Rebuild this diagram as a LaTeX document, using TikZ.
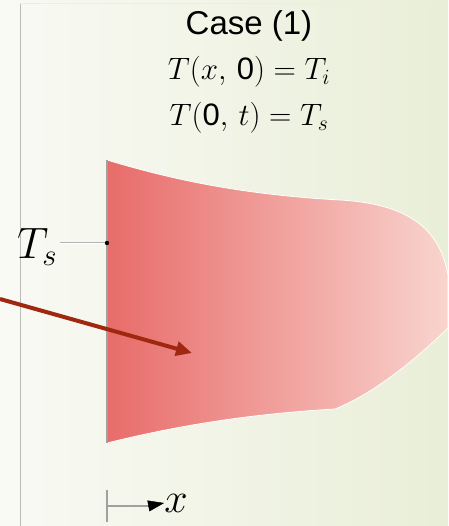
\documentclass[tikz,border=0pt]{standalone}
\usepackage{fix-cm}
\usepackage{amsmath, amssymb}
\usepackage{fontspec}
\setmainfont{Liberation Sans}
\usetikzlibrary{arrows.meta}
\definecolor{bgleft}{RGB}{249, 250, 244}
\definecolor{bgright}{RGB}{233, 238, 216}
\definecolor{slabhot}{RGB}{232, 108, 106}
\definecolor{slabcold}{RGB}{249, 212, 206}
\definecolor{arrowred}{RGB}{160, 40, 16}
\definecolor{wallgray}{RGB}{160, 160, 160}

\begin{document}
\begin{tikzpicture}[x=1pt, y=-1pt,
    eqtext/.style={inner sep=0pt, font=\fontsize{31}{34}\selectfont}]
        \useasboundingbox (0,0) rectangle (448,526);
        % Background panel
        \shade[left color=bgleft, right color=bgright] (0,0) rectangle (448,526);
        \draw[wallgray!70, line width=0.8pt] (20,3) -- (20,526);
        \draw[white!85!gray, line width=0.6pt] (20,3) -- (448,3);
        % Heated slab with temperature profile
        \shade[left color=slabhot, right color=slabcold, draw=white, line width=0.8pt]
          (107,160)
          .. controls (180,182) and (250,195) ..
          (340,200)         % flat part of top
          .. controls (410,204) and (440,230) ..
          (448,275)
          -- (448,328)
          .. controls (410,365) and (370,395) ..
          (335,409)         % kink in bottom
          .. controls (250,414) and (180,425) ..
          (107,443) -- cycle;
        \coordinate (walltop) at (107,160);
        \coordinate (wallbot) at (107,443);
        \draw[wallgray, line width=1.6pt] (walltop) -- (wallbot);
        % Labels
        \node[inner sep=0pt, font=\fontsize{33}{36}\selectfont] (title) at (249,26) {Case (1)};
        \node[eqtext] (initcond) at (249,72) {$T(x,\,\text{0}) = T_i$};
        \node[eqtext] (bndcond) at (249,118) {$T(\text{0},\,t) = T_s$};
        % Surface temperature marker
        \node[inner sep=0pt, font=\fontsize{44}{46}\selectfont] (tslabel) at (37,247) {$T_s$};
        \coordinate (tsdot) at (107,243);
        \draw[wallgray!80, double=white, double distance=0.9pt, line width=0.5pt]
          (tslabel.east |- tsdot) ++(3,0) -- (tsdot);
        \fill[black] (tsdot) circle (2.2);
        % Pointer into slab
        \coordinate (ptrstart) at (0,299);
        \coordinate (ptrend) at (192,353);
        \draw[arrowred, line width=4pt, -{Triangle[length=16pt, width=14pt]}]
          (ptrstart) -- (ptrend);
        % x axis
        \coordinate (origin) at (107,506);
        \draw[wallgray, line width=1.2pt] (107,490) -- (107,522);
        \node[inner sep=0pt, font=\fontsize{42}{44}\selectfont] (xlabel) at (176,503) {$x$};
        \draw[wallgray, line width=1.2pt] (origin) -- (150,506);
        \draw[black, -{Triangle[length=16pt, width=11pt]}] (148,506) -- (xlabel.west);
      \end{tikzpicture}
\end{document}
